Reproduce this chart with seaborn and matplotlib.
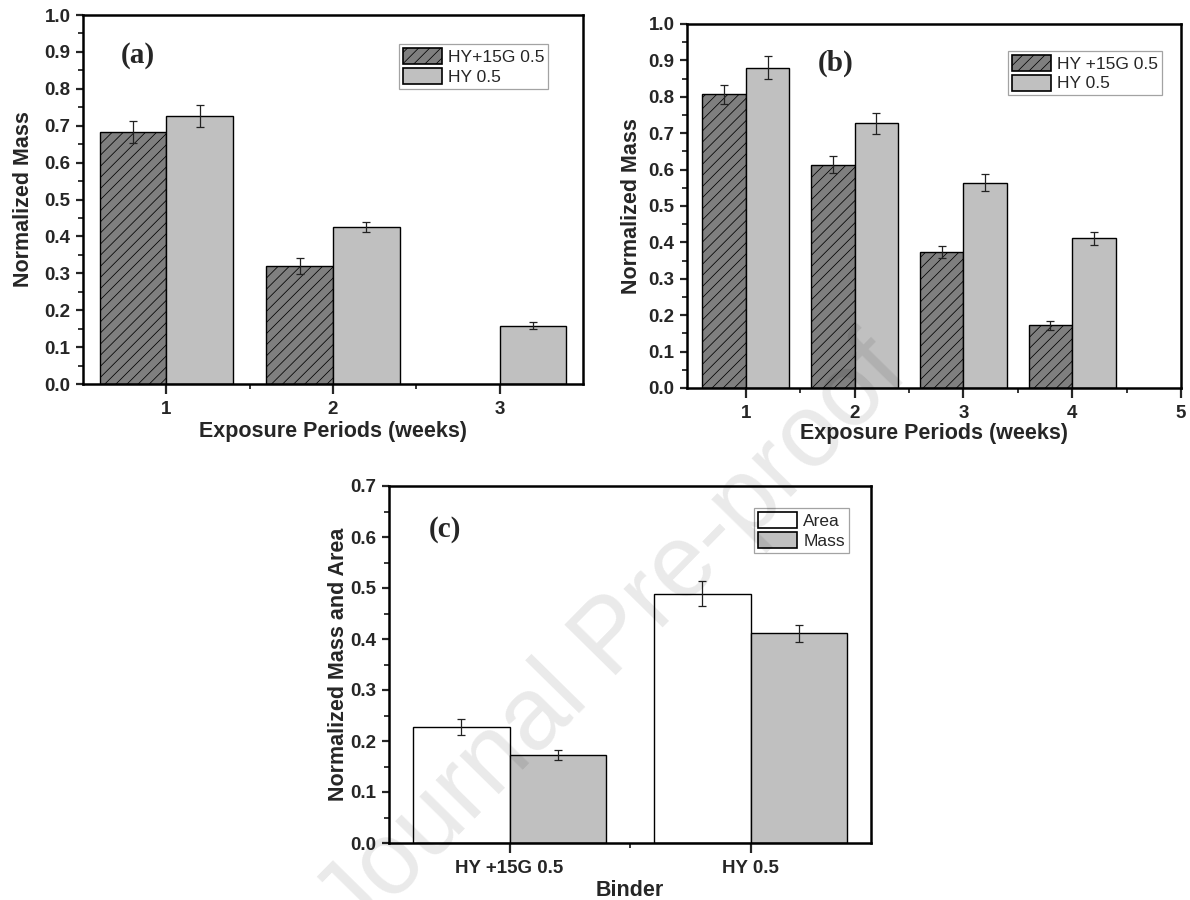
import matplotlib
matplotlib.use("Agg")
import matplotlib.pyplot as plt
from matplotlib.patches import Patch
from matplotlib.ticker import MultipleLocator, FixedLocator, FormatStrFormatter
import pandas as pd
import seaborn as sns

# ---- (a) normalized mass, first exposure series ----
weeks_a = [1, 2, 3]
series_a = ["HY+15G 0.5", "HY 0.5"]
blend_a = [0.683, 0.319, None]          # no blended-binder specimen left in week 3
blend_a_err = [0.031, 0.022, None]
plain_a = [0.726, 0.426, 0.158]
plain_a_err = [0.029, 0.014, 0.009]

# ---- (b) normalized mass, second exposure series ----
weeks_b = [1, 2, 3, 4, 5]
series_b = ["HY +15G 0.5", "HY 0.5"]
blend_b = [0.807, 0.613, 0.373, 0.172, None]
blend_b_err = [0.026, 0.023, 0.017, 0.012, None]
plain_b = [0.880, 0.727, 0.564, 0.411, None]
plain_b_err = [0.031, 0.028, 0.023, 0.018, None]

# ---- (c) normalized mass and area by binder ----
binders_c = ["HY +15G 0.5", "HY 0.5"]
series_c = ["Area", "Mass"]
area_c = [0.227, 0.489]
area_c_err = [0.016, 0.025]
mass_c = [0.172, 0.411]
mass_c_err = [0.010, 0.017]

DARK = "#7f7f7f"
LIGHT = "#c0c0c0"
WHITE = "#ffffff"
HATCH = "///"

sns.set_style("white")
plt.rcParams["font.family"] = ["Liberation Sans", "DejaVu Sans"]
plt.rcParams["hatch.linewidth"] = 0.55
plt.rcParams["hatch.color"] = "#2e2e2e"

TICK_FS = 13.5
LABEL_FS = 15.5
LEGEND_FS = 12.5


def long_table(cats, names, values, errors):
    rows = []
    for name, vals, errs in zip(names, values, errors):
        for c, v, e in zip(cats, vals, errs):
            if v is not None:
                rows.append({"cat": c, "series": name, "value": v, "err": e})
    return pd.DataFrame(rows)


def draw_panel(ax, df, order, names, colors, hatched, ylim, ymajor,
               xminor, xlim, xlabel, ylabel, tick_labels=None):
    sns.barplot(data=df, x="cat", y="value", hue="series", order=order,
                hue_order=names, palette=dict(zip(names, colors)),
                edgecolor="black", linewidth=1.0, errorbar=None, width=0.8,
                saturation=1, legend=False, ax=ax, zorder=2)
    for cont, name in zip(ax.containers, names):
        sub = df[df["series"] == name].set_index("cat")
        for bar in cont:
            xc = bar.get_x() + bar.get_width() / 2
            cat = order[int(round(xc))]
            if name == hatched:
                bar.set_hatch(HATCH)
                try:
                    bar.set_hatchcolor("#2e2e2e")
                except AttributeError:
                    pass
            ax.errorbar(xc, bar.get_height(), yerr=sub.loc[cat, "err"],
                        fmt="none", ecolor="#222222", elinewidth=0.9,
                        capsize=3.2, capthick=0.9, zorder=3)
    ax.set_xlim(*xlim)
    ax.set_ylim(*ylim)
    ax.yaxis.set_major_locator(MultipleLocator(ymajor))
    ax.yaxis.set_minor_locator(MultipleLocator(ymajor / 2))
    ax.yaxis.set_major_formatter(FormatStrFormatter("%.1f"))
    ax.xaxis.set_minor_locator(FixedLocator(xminor))
    if tick_labels is not None:
        ax.set_xticks(range(len(order)))
        ax.set_xticklabels(tick_labels)
    for s in ax.spines.values():
        s.set_linewidth(1.8)
        s.set_color("black")
    ax.tick_params(axis="both", which="major", direction="out", width=1.6,
                   labelsize=TICK_FS, top=False, right=False,
                   bottom=True, left=True)
    ax.tick_params(axis="x", which="major", length=7, pad=5)
    ax.tick_params(axis="y", which="major", length=5, pad=4)
    ax.tick_params(axis="both", which="minor", direction="out", width=1.3,
                   length=3.5, top=False, right=False, bottom=True, left=True)
    for lab in ax.get_xticklabels() + ax.get_yticklabels():
        lab.set_fontweight("bold")
    ax.set_xlabel(xlabel, fontsize=LABEL_FS, fontweight="bold")
    ax.set_ylabel(ylabel, fontsize=LABEL_FS, fontweight="bold")
    ax.grid(False)


def add_legend(ax, names, colors, hatched, anchor):
    handles = [Patch(facecolor=c, edgecolor="black", linewidth=1.2,
                     hatch=HATCH if n == hatched else None)
               for n, c in zip(names, colors)]
    leg = ax.legend(handles, names, loc="upper right", bbox_to_anchor=anchor,
                    borderaxespad=0, fontsize=LEGEND_FS, frameon=True,
                    fancybox=False, handlelength=2.25, handleheight=1.05,
                    labelspacing=0.16, borderpad=0.22, handletextpad=0.35)
    leg.get_frame().set_edgecolor("#8c8c8c")
    leg.get_frame().set_linewidth(0.9)


def add_tag(ax, text, x, y):
    ax.text(x, y, text, transform=ax.transAxes, ha="center", va="center",
            fontsize=21, fontweight="bold",
            family=["Liberation Serif", "DejaVu Serif"])


fig = plt.figure(figsize=(11.9, 9), dpi=100)
W, H = 1190.0, 900.0


def axes_px(left, right, top, bottom):
    return fig.add_axes([left / W, 1 - bottom / H, (right - left) / W,
                         (bottom - top) / H])


# (a)
ax_a = axes_px(83, 583, 15, 384)
df_a = long_table(weeks_a, series_a, [blend_a, plain_a],
                  [blend_a_err, plain_a_err])
draw_panel(ax_a, df_a, weeks_a, series_a, [DARK, LIGHT], series_a[0],
           (0, 1.0), 0.1, [0.5, 1.5], (-0.5, 2.5),
           "Exposure Periods (weeks)", "Normalized Mass",
           tick_labels=[str(w) for w in weeks_a])
add_legend(ax_a, series_a, [DARK, LIGHT], series_a[0], (0.93, 0.921))
add_tag(ax_a, "(a)", 0.11, 0.889)
ax_a.yaxis.set_label_coords(-0.098, 0.5)
ax_a.xaxis.set_label_coords(0.5, -0.1)

# (b)
ax_b = axes_px(687, 1181, 24, 388)
df_b = long_table(weeks_b, series_b, [blend_b, plain_b],
                  [blend_b_err, plain_b_err])
draw_panel(ax_b, df_b, weeks_b, series_b, [DARK, LIGHT], series_b[0],
           (0, 1.0), 0.1, [0.5, 1.5, 2.5, 3.5], (-0.54, 4.0),
           "Exposure Periods (weeks)", "Normalized Mass",
           tick_labels=[str(w) for w in weeks_b])
add_legend(ax_b, series_b, [DARK, LIGHT], series_b[0], (0.9615, 0.926))
add_tag(ax_b, "(b)", 0.30, 0.893)
ax_b.yaxis.set_label_coords(-0.091, 0.5)
ax_b.xaxis.set_label_coords(0.5, -0.096)

# (c)
ax_c = axes_px(389, 871, 486, 843)
df_c = long_table(binders_c, series_c, [area_c, mass_c],
                  [area_c_err, mass_c_err])
draw_panel(ax_c, df_c, binders_c, series_c, [WHITE, LIGHT], None,
           (0, 0.7), 0.1, [0.5], (-0.5, 1.5),
           "Binder", "Normalized Mass and Area")
add_legend(ax_c, series_c, [WHITE, LIGHT], None, (0.954, 0.938))
add_tag(ax_c, "(c)", 0.116, 0.877)
ax_c.yaxis.set_label_coords(-0.083, 0.5)
ax_c.xaxis.set_label_coords(0.5, -0.104)

# diagonal pre-proof stamp across the page
fig.text(614 / W, 1 - 640 / H, "Journal Pre-proof", rotation=45.5,
         rotation_mode="anchor", ha="center", va="center", fontsize=74,
         color="black", alpha=0.085, zorder=20,
         family=["Liberation Sans", "DejaVu Sans"])

fig.savefig("out.png", dpi=100, facecolor="white")
